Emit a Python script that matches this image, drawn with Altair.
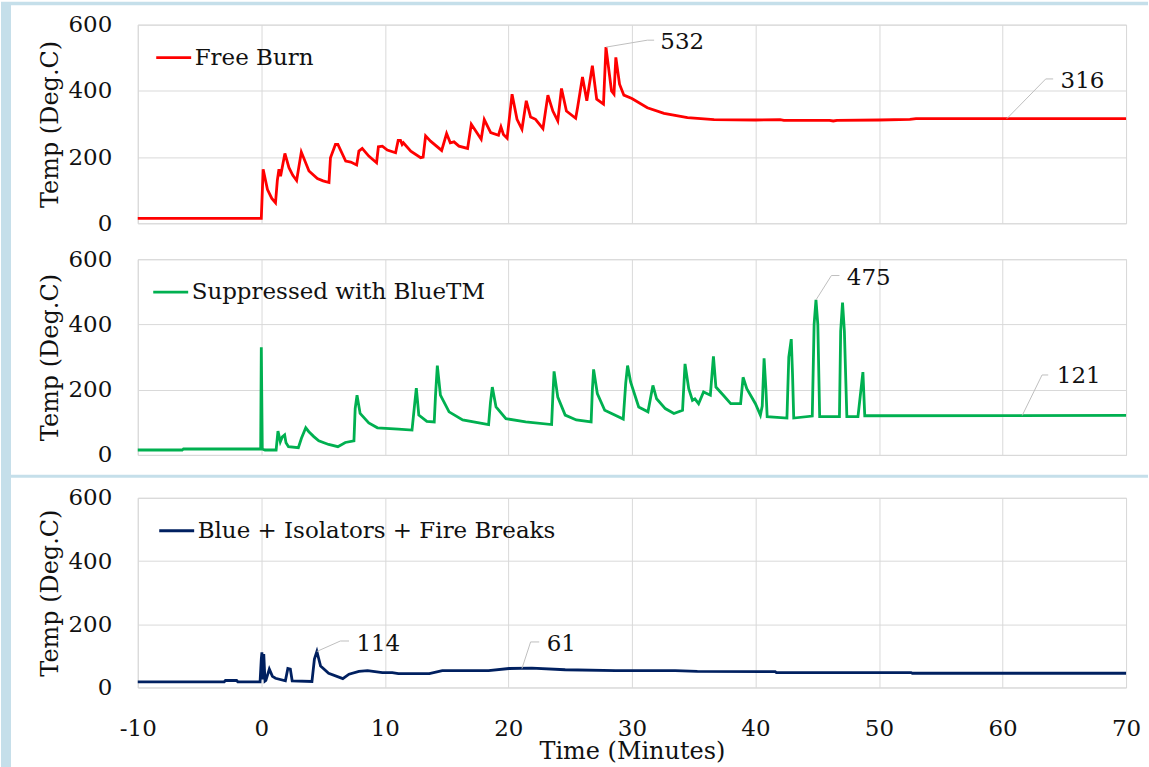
import altair as alt
import pandas as pd

# ---------------- data ----------------
free_t = [-10, 0.0, 0.15, 0.5, 0.85, 1.15, 1.3, 1.43, 1.56, 1.91, 2.24, 2.55, 2.86, 3.24, 3.86, 4.54,
          5.0, 5.48, 5.6, 6.0, 6.2, 6.83, 7.24, 7.72, 7.9, 8.17, 8.7, 9.33, 9.48, 9.8, 10.2, 10.87,
          11.08, 11.27, 11.4, 11.5, 12.1, 12.9, 13.1, 13.3, 13.7, 14.6, 15.0, 15.3, 15.6, 16.0, 16.7,
          17.0, 17.8, 18.05, 18.57, 19.2, 19.4, 19.6, 19.9, 20.3, 20.7, 21.1, 21.45, 21.8, 22.2, 22.8,
          23.2, 23.6, 24.0, 24.3, 24.7, 25.45, 25.6, 26.0, 26.35, 26.8, 27.15, 27.7, 27.9, 28.35, 28.55,
          28.7, 29.0, 29.35, 30.0, 31.25, 32.6, 34.5, 36.65, 40, 42, 42.3, 46, 46.3, 46.6, 50, 52.5, 53, 70]
free_v = [15, 15, 163, 102, 75, 62, 130, 163, 142, 211, 168, 145, 129, 215, 158, 135,
          128, 123, 198, 238, 238, 188, 185, 176, 218, 226, 203, 183, 231, 233, 221, 213,
          250, 250, 238, 243, 218, 198, 200, 264, 248, 220, 271, 243, 246, 233, 226,
          299, 254, 313, 274, 266, 291, 268, 257, 390, 314, 284, 370, 321, 314, 286,
          387, 339, 309, 407, 339, 317, 349, 442, 370, 476, 375, 360, 532, 400, 390,
          501, 420, 387, 377, 349, 332, 319, 313, 312, 313, 311, 311, 309, 311, 312, 314, 316, 316]

blue_t = [-10, -6.4, -6.3, -0.05, 0.0, 0.08, 0.3, 1.2, 1.35, 1.54, 1.7, 1.89, 2.0, 2.2, 3.0, 3.25, 3.6,
          3.85, 4.25, 4.65, 5.45, 6.2, 6.8, 7.5, 7.6, 7.75, 8.0, 8.7, 9.4, 11.1, 12.2, 12.4, 12.55,
          12.75, 13.4, 14.0, 14.1, 14.25, 14.5, 15.2, 16.3, 18.4, 18.55, 18.7, 19.0, 19.8, 21.4, 23.5,
          23.6, 23.7, 24.0, 24.6, 25.5, 26.7, 26.8, 26.9, 27.2, 27.8, 29.3, 29.5, 29.65, 29.9, 30.55,
          31.3, 31.7, 32.0, 32.7, 33.4, 34.1, 34.3, 34.6, 34.9, 35.1, 35.4, 35.8, 36.35, 36.6, 36.8,
          37.4, 38.0, 38.8, 39.0, 39.3, 40.0, 40.4, 40.55, 40.7, 40.85, 40.95, 42.55, 42.7, 42.9, 43.0,
          43.1, 44.6, 44.75, 44.9, 45.05, 45.2, 46.8, 46.9, 47.05, 47.2, 47.4, 48.3, 48.7, 48.85, 70]
blue_v = [15, 15, 18, 18, 330, 18, 15, 15, 73, 40, 55, 61, 37, 25, 22, 51, 83,
          71, 56, 43, 32, 25, 38, 43, 142, 183, 127, 98, 83, 79, 76, 150, 205,
          122, 103, 101, 180, 274, 183, 132, 107, 93, 160, 208, 147, 111, 101, 93,
          180, 256, 177, 122, 107, 101, 200, 262, 188, 137, 110, 220, 274, 223, 147,
          132, 213, 172, 142, 127, 137, 279, 203, 167, 172, 157, 193, 183, 302, 208,
          183, 157, 157, 238, 203, 157, 122, 150, 296, 200, 117, 113, 300, 355, 250,
          113, 119, 400, 475, 400, 117, 117, 380, 467, 380, 117, 117, 254, 120, 121]

iso_t = [-10, -3.0, -2.9, -2.0, -1.9, -0.1, 0.0, 0.05, 0.12, 0.2, 0.3, 0.37, 0.65, 0.9, 1.15, 1.95,
         2.15, 2.35, 2.5, 4.1, 4.3, 4.5, 4.8, 5.45, 6.6, 7.1, 7.9, 8.6, 9.8, 10.6, 11.1, 13.6, 14.65,
         18.4, 20.05, 21.9, 24.6, 28.7, 33.5, 35.3, 41.6, 41.7, 52.6, 52.7, 70]
iso_v = [18, 18, 22, 22, 18, 18, 90, 111, 25, 106, 20, 22, 58, 35, 29, 21,
         60, 58, 21, 19, 90, 114, 68, 45, 28, 42, 51, 53, 47, 47, 44, 44, 53,
         53, 60, 61, 56, 53, 53, 51, 50, 47, 47, 45, 45]

# annotations: label, point (t, v), elbow (t, v), end t, text (t, v)
ann1 = [("532", 27.9, 532, 31.25, 553, 31.8, 32.3, 548),
        ("316", 60.35, 316, 63.5, 436, 64.1, 64.7, 430)]
ann2 = [("475", 44.9, 475, 46.15, 550, 46.8, 47.4, 543),
        ("121", 61.6, 121, 63.2, 245, 63.7, 64.4, 241)]
ann3 = [("114", 4.5, 114, 6.4, 147, 7.1, 7.7, 137),
        ("61", 21.1, 60, 21.8, 144, 22.5, 23.1, 137)]

series = [
    ("Free Burn", "#ff0000", free_t, free_v, ann1, 199, 17),
    ("Suppressed with BlueTM", "#00b050", blue_t, blue_v, ann2, 196, 14),
    ("Blue + Isolators + Fire Breaks", "#002060", iso_t, iso_v, ann3, 190, 20),
]

x_ticks = [-10, 0, 10, 20, 30, 40, 50, 60, 70]
y_ticks = [0, 200, 400, 600]

FONT = "DejaVu Serif"
STRIP = "#c5dfea"
W = 990


def panel(name, color, ts, vs, ann, h, lx, bottom):
    df = pd.DataFrame({"t": ts, "v": vs, "s": name})
    xscale = alt.Scale(domain=[-10, 70], nice=False)
    yscale = alt.Scale(domain=[0, 600], nice=False)
    if bottom:
        xaxis = alt.Axis(values=x_ticks, title="Time (Minutes)", labelPadding=30, titlePadding=-1,
                         labelFlush=False, labelExpr="'' + datum.value")
    else:
        xaxis = alt.Axis(values=x_ticks, labels=False, title=None)
    yaxis = alt.Axis(values=y_ticks, title="Temp (Deg.C)", labelPadding=26, titlePadding=6)

    line = alt.Chart(df).mark_line(strokeWidth=2.8).encode(
        x=alt.X("t:Q", scale=xscale, axis=xaxis),
        y=alt.Y("v:Q", scale=yscale, axis=yaxis),
        color=alt.Color("s:N", scale=alt.Scale(domain=[name], range=[color]),
                        legend=alt.Legend(orient="none", legendX=lx, legendY=14, title=None,
                                          symbolType="stroke", symbolSize=1225,
                                          symbolStrokeWidth=2.8, labelFont=FONT,
                                          labelFontSize=23, labelColor="#111",
                                          labelOffset=2, labelLimit=600)),
    )

    lead_rows, text_rows = [], []
    for i, (lab, pt, pv, et, ev, endt, tt, tv) in enumerate(ann):
        lead_rows += [{"id": i, "k": 0, "t": pt, "v": pv},
                      {"id": i, "k": 1, "t": et, "v": ev},
                      {"id": i, "k": 2, "t": endt, "v": ev}]
        text_rows.append({"t": tt, "v": tv, "lab": lab})
    leaders = alt.Chart(pd.DataFrame(lead_rows)).mark_line(color="#bfbfbf", strokeWidth=1).encode(
        x=alt.X("t:Q", scale=xscale), y=alt.Y("v:Q", scale=yscale),
        detail="id:N", order="k:Q")
    texts = alt.Chart(pd.DataFrame(text_rows)).mark_text(
        align="left", baseline="middle", font=FONT, fontSize=23, color="#111").encode(
        x=alt.X("t:Q", scale=xscale), y=alt.Y("v:Q", scale=yscale), text="lab:N")
    return [line, leaders, texts], h


one = pd.DataFrame({"k": [0]})


def strip(x1, x2, y1, y2):
    return alt.Chart(one).mark_rect(color=STRIP).encode(
        x=alt.value(x1), x2=alt.value(x2), y=alt.value(y1), y2=alt.value(y2))


def spacer(h):
    return alt.Chart(one).mark_rect(opacity=0).encode(
        x=alt.value(0), x2=alt.value(1), y=alt.value(0), y2=alt.value(1)
    ).properties(width=W, height=h, view=alt.ViewBackground(strokeWidth=0))


panels = []
for idx, (name, color, ts, vs, ann, h, lx) in enumerate(series):
    layers, hh = panel(name, color, ts, vs, ann, h, lx, idx == 2)
    if idx == 0:
        # decorative light-blue frame of the original slide
        layers = [strip(-137, -127, -23, 744), strip(-127, 1012, -23, -19.5),
                  strip(-127, 1012, 451, 454)] + layers
    panels.append(alt.layer(*layers).properties(width=W, height=hh))

chart = alt.vconcat(panels[0], spacer(36), panels[1], spacer(43), panels[2],
                    spacing=0, bounds="flush").resolve_scale(
    color="independent").properties(padding=0, background="white").configure_axis(
    gridColor="#d9d9d9", gridWidth=1, domain=False, ticks=False, tickSize=0,
    labelFont=FONT, labelFontSize=23, labelColor="#111",
    titleFont=FONT, titleFontSize=24, titleFontWeight="normal", titleColor="#111"
).configure_view(stroke="#d9d9d9")

chart.save("out.html", embed_options={"renderer": "svg", "actions": False})
